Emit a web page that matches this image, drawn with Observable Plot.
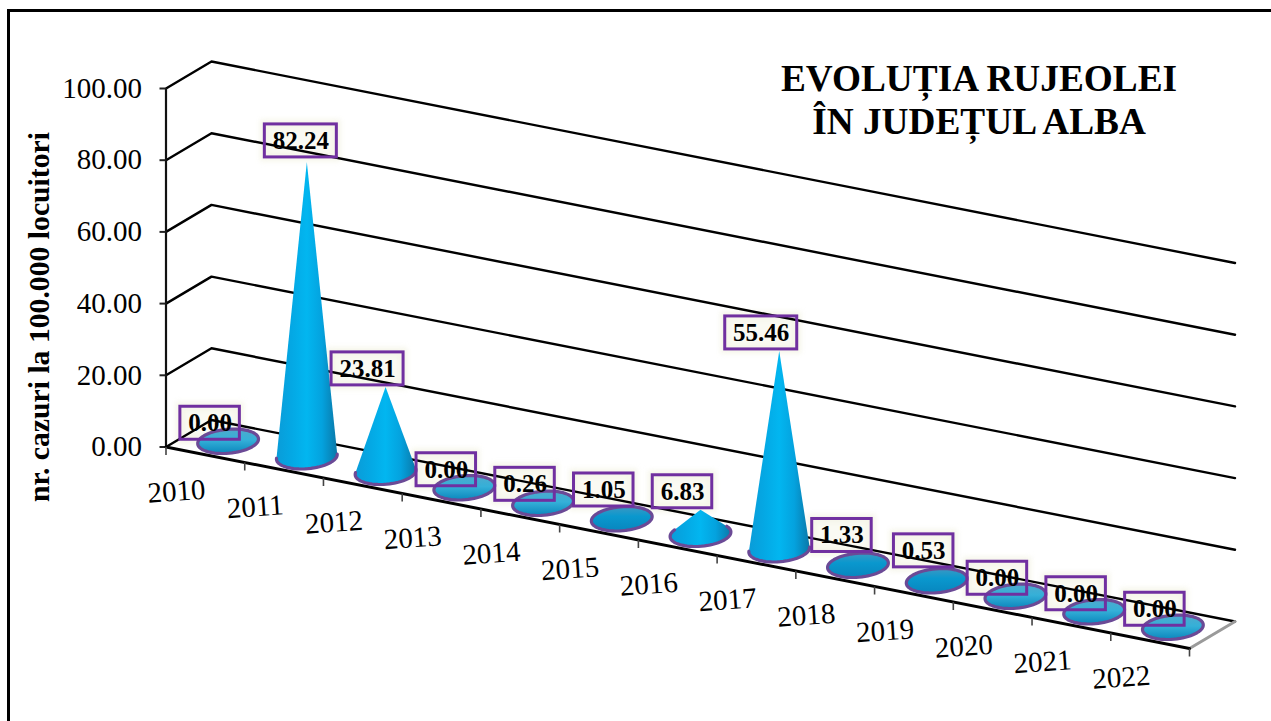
<!DOCTYPE html>
<html lang="ro">
<head>
<meta charset="utf-8">
<script src="https://cdn.jsdelivr.net/npm/d3@7"></script>
<script src="https://cdn.jsdelivr.net/npm/@observablehq/plot@0.6"></script>
<style>
  html, body { margin: 0; padding: 0; background: #fff; overflow: hidden; }
  #page { position: relative; width: 1271px; height: 721px; overflow: hidden; }
  #page svg { position: absolute; left: 0; top: 0; }
  #frame { position: absolute; left: 7px; top: 9px; right: -10px; bottom: -10px;
           border-left: 3px solid #000; border-top: 3px solid #000; }
  #title { position: absolute; left: 679px; width: 600px; top: 57px; margin: 0; text-align: center;
           font: bold 37.3px/43px "Liberation Serif", serif; color: #000; }
</style>
</head>
<body>
<div id="page">
  <div id="frame"></div>
  <div id="chart"></div>
  <h1 id="title">EVOLUȚIA RUJEOLEI<br>ÎN JUDEȚUL ALBA</h1>
</div>
<script>
// ---- data ----
const years = [2010, 2011, 2012, 2013, 2014, 2015, 2016, 2017, 2018, 2019, 2020, 2021, 2022];
const rates = [0.00, 82.24, 23.81, 0.00, 0.26, 1.05, 6.83, 55.46, 1.33, 0.53, 0.00, 0.00, 0.00];
const valueTicks = [0, 20, 40, 60, 80, 100];
const yAxisTitle = "nr. cazuri la 100.000 locuitori";

// ---- oblique 3D projection, expressed in the units of Plot's x and y scales ----
const catPx = [78.73, 15.5], depthPx = [45.5, -27], unitPx = 3.585;
const at = (cat, depth, value, ox = 0, oy = 0) => ({
  x: cat + (depth * depthPx[0] + ox) / catPx[0],
  y: value - (cat * catPx[1] + depth * depthPx[1] + oy) / unitPx
});

// hand-moved data labels in the reference (px)
const labelNudge = {2011: [12, -3], 2015: [0, -7], 2018: [2, -7], 2019: [5, -10]};
const serif = '"Liberation Serif", serif';

// ---- geometry derived from the data ----
const rx = 30.5, ry = 12, tilt = -5 * Math.PI / 180;
const ellipse = d3.range(64).map(k => {
  const t = k / 64 * 2 * Math.PI, ex = rx * Math.cos(t), ey = ry * Math.sin(t);
  return [ex * Math.cos(tilt) - ey * Math.sin(tilt), ex * Math.sin(tilt) + ey * Math.cos(tilt)];
});
const coneFill = [], diskLight = [], diskDark = [], outline = [];
years.forEach((year, i) => {
  const v = rates[i], apex = [0, -v * unitPx];
  const hull = d3.polygonHull([apex, ...ellipse]);
  const ai = hull.indexOf(apex);
  const toRow = ([ox, oy]) => ({year, ...at(i + 0.5, 0.5, 0, ox, oy)});
  if (ai >= 0) {
    const ring = [...hull.slice(ai), ...hull.slice(0, ai)];
    ring.forEach(p => coneFill.push(toRow(p)));
    ring.slice(1).forEach(p => outline.push(toRow(p)));
  } else {
    (v < 0.5 ? diskLight : diskDark).push(...ellipse.map(toRow));
    [...ellipse, ellipse[0]].forEach(p => outline.push(toRow(p)));
  }
});

const labels = years.map((year, i) => {
  const [nx, ny] = labelNudge[year] || [0, 0], v = rates[i], w = v >= 10 ? 72 : 59.5, h = 33;
  const cx = -18 + nx, cy = -v * unitPx - 18 + ny;
  const a = at(i + 0.5, 0.5, 0, cx - w / 2, cy + h / 2);
  const b = at(i + 0.5, 0.5, 0, cx + w / 2, cy - h / 2);
  return {...at(i + 0.5, 0.5, 0, cx, cy), x1: a.x, y1: a.y, x2: b.x, y2: b.y, text: v.toFixed(2)};
});
const gridRows = valueTicks.flatMap(t => [
  {t, ...at(0, 0, t)}, {t, ...at(0, 1, t)}, {t, ...at(years.length, 1, t)}
]);
const catTicks = d3.range(years.length + 1).map(i => {
  const a = at(i, 0, 0), b = at(i, 0, 0, 0, 8);
  return {x1: a.x, y1: a.y, x2: b.x, y2: b.y};
});
const xLabels = years.map((year, i) => ({year, ...at(i, 0, 0, 10.5, 44.5)}));

const defs = () => {
  const d = d3.create("svg:defs");
  const grad = (id, x2, y2, stops) => {
    const g = d.append("linearGradient").attr("id", id)
      .attr("x1", 0).attr("y1", 0).attr("x2", x2).attr("y2", y2);
    stops.forEach(([o, c]) => g.append("stop").attr("offset", o).attr("stop-color", c));
  };
  grad("cone", 1, 0, [[0, "#0A9CD8"], [0.25, "#04A8E4"], [0.5, "#02B6F0"], [0.75, "#04A2DE"], [1, "#0A78A8"]]);
  grad("diskLight", 0, 1, [[0, "#4FA9CC"], [0.45, "#35B0D8"], [1, "#0A86BC"]]);
  grad("diskDark", 0, 1, [[0, "#3C98C2"], [0.4, "#0A98CE"], [1, "#0886BE"]]);
  return d.node();
};

const chart = Plot.plot({
  width: 1271, height: 721,
  marginLeft: 165.5, marginRight: 82, marginTop: 88, marginBottom: 274.5,
  x: {domain: [0, years.length], axis: null},
  y: {domain: [0, 100], axis: null},
  style: {background: "transparent"},
  marks: [
    defs,
    Plot.rect(labels, {x1: "x1", x2: "x2", y1: "y1", y2: "y2", fill: "#FAFAF3", stroke: "#F4F4E6", strokeWidth: 9, strokeOpacity: 0.8, imageFilter: "blur(2.5px)"}),
    Plot.line(gridRows, {x: "x", y: "y", z: "t", stroke: "#000", strokeWidth: 2.4}),
    Plot.ruleX([0], {y1: 0, y2: 100, stroke: "#111", strokeWidth: 2.2}),
    Plot.axisY({
      ticks: valueTicks, tickSize: 6, tickPadding: 18, label: null,
      tickFormat: d3.format(".2f"), fontSize: 29, fontFamily: serif,
      stroke: "#222", strokeWidth: 2, fill: "#000"
    }),
    Plot.line([at(years.length, 0, 0), at(years.length, 1, 0)], {x: "x", y: "y", stroke: "#9a9a9a", strokeWidth: 3}),
    Plot.line([at(0, 0, 0), at(years.length, 0, 0)], {x: "x", y: "y", stroke: "#000", strokeWidth: 3}),
    Plot.link(catTicks, {x1: "x1", y1: "y1", x2: "x2", y2: "y2", stroke: "#444", strokeWidth: 1.6}),
    Plot.text(xLabels, {x: "x", y: "y", text: d => String(d.year), rotate: -4, fontSize: 29, fontFamily: serif, fill: "#000"}),
    Plot.line(diskLight, {x: "x", y: "y", z: "year", fill: "url(#diskLight)", stroke: "none"}),
    Plot.line(diskDark, {x: "x", y: "y", z: "year", fill: "url(#diskDark)", stroke: "none"}),
    Plot.line(coneFill, {x: "x", y: "y", z: "year", fill: "url(#cone)", stroke: "none"}),
    Plot.line(outline, {x: "x", y: "y", z: "year", stroke: "#6B4A96", strokeWidth: 3.2, strokeLinecap: "round"}),
    Plot.rect(labels, {x1: "x1", x2: "x2", y1: "y1", y2: "y2", fill: "none", stroke: "#7030A0", strokeWidth: 3}),
    Plot.text(labels, {x: "x", y: "y", text: "text", fontSize: 25, fontWeight: "bold", fontFamily: serif, fill: "#000"}),
    Plot.text([yAxisTitle], {...at(0, 0, 0, -126.5, -130), text: d => d, rotate: -90, fontSize: 29.7, fontWeight: "bold", fontFamily: serif, fill: "#000"})
  ]
});
document.getElementById("chart").append(chart);
</script>
</body>
</html>
